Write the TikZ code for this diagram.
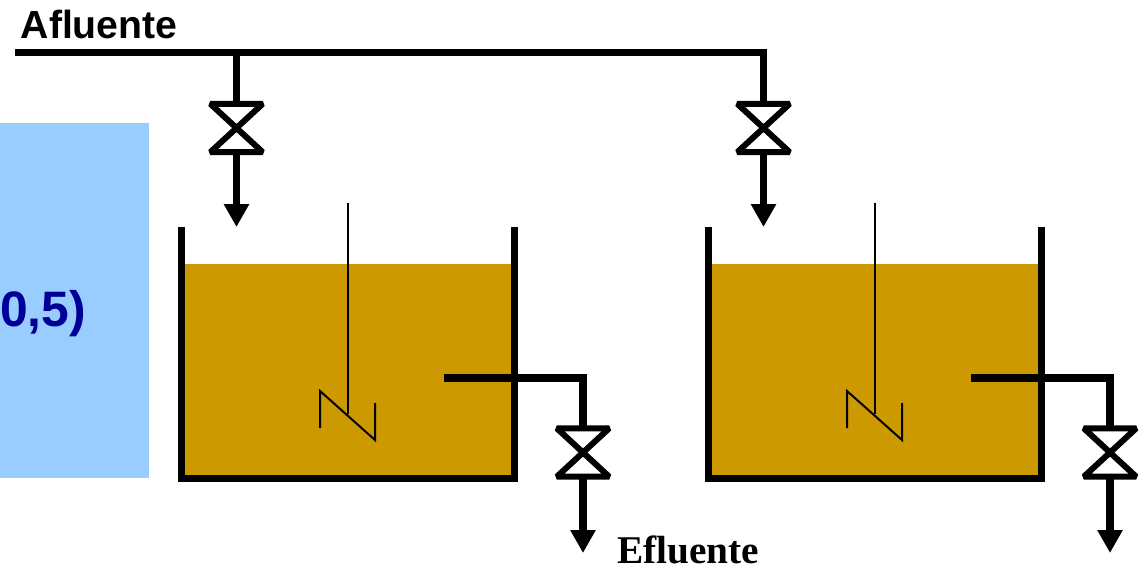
\documentclass[tikz,border=0pt]{standalone}
\usepackage{fontspec}
\setmainfont{Liberation Serif}
\setsansfont{Liberation Sans}
\usetikzlibrary{arrows.meta, positioning, calc}
\definecolor{sludge}{HTML}{CC9900}
\definecolor{panelblue}{HTML}{99CCFF}
\definecolor{darkblue}{HTML}{000099}
\tikzset{
  liquid/.style={rectangle, fill=sludge, inner sep=0pt, minimum width=332.5pt, minimum height=214pt},
  panel/.style={rectangle, fill=panelblue, inner sep=0pt, minimum width=149pt, minimum height=355pt},
  valve/.style={rectangle, inner sep=0pt, minimum width=52pt, minimum height=48pt},
  pipe/.style={line width=7.5pt, line join=miter},
  valveline/.style={line width=6pt, line join=bevel, line cap=round},
  flow/.style={pipe, -{Triangle[length=23pt, width=24pt]}},
  wall/.style={line width=7pt, line join=miter},
  stirrer/.style={line width=2pt},
  sanslabel/.style={anchor=base west, inner sep=0pt, font=\sffamily\bfseries\fontsize{39.2}{40}\selectfont},
  seriflabel/.style={anchor=base west, inner sep=0pt, font=\rmfamily\bfseries\fontsize{39.3}{40}\selectfont}
}
\begin{document}
\begin{tikzpicture}[x=1pt, y=-1pt]
    \useasboundingbox (0,0) rectangle (1142,567);
    \node[panel] (panelL) at (74.5,300.5) {};
    \node[anchor=base west, inner sep=0pt, text=darkblue, font=\sffamily\bfseries\fontsize{49.8}{51}\selectfont] (ratio) at (0,326) {0,5)};
    \node[sanslabel] (afl) at (20.5,39) {Afluente};
    \node[seriflabel] (efl) at (617,563) {Efluente};
    \coordinate (feed) at (15,52.5);
    % both reactors are the same, only shifted
    \foreach \t/\dx in {A/0, B/527}{
      \begin{scope}[xshift=\dx]
        \node[liquid] (liq\t) at (347.75,371) {};
        \coordinate (topL\t) at (181.5,227);
        \coordinate (topR\t) at (514,227);
        \coordinate (botL\t) at (181.5,478);
        \coordinate (botR\t) at (514,478);
        \draw[wall] (topL\t) -- (botL\t) -- (botR\t) -- (topR\t);
        % stirrer
        \coordinate (shaftTop\t) at (347.5,203);
        \coordinate (shaftEnd\t) at (347.5,414);
        \coordinate (zigA\t) at (320,428);
        \coordinate (zigB\t) at (320,391);
        \coordinate (zigC\t) at (375,440);
        \coordinate (zigD\t) at (375,403);
        \draw[stirrer] (shaftTop\t) -- (shaftEnd\t);
        \draw[stirrer] (zigA\t) -- (zigB\t) -- (zigC\t) -- (zigD\t);
        % inlet
        \coordinate (tee\t) at (236.5,52.5);
        \node[valve] (vIn\t) at (236.5,128) {};
        \coordinate (inTip\t) at (236.5,227);
        \draw[flow] (vIn\t.south) -- (inTip\t);
        % outlet
        \coordinate (outStart\t) at (444,378);
        \node[valve] (vOut\t) at (583,452.5) {};
        \coordinate (outTip\t) at (583,553);
        \draw[pipe] (outStart\t) -| (vOut\t.north);
        \draw[flow] (vOut\t.south) -- (outTip\t);
        \foreach \v in {vIn\t, vOut\t}
          \draw[valveline] (\v.north west) -- (\v.north east) -- (\v.south west) -- (\v.south east) -- cycle;
      \end{scope}
    }
    \draw[pipe] (teeA) -- (vInA.north);
    \draw[pipe] (feed) -- (teeB) -- (vInB.north);
\end{tikzpicture}
\end{document}
